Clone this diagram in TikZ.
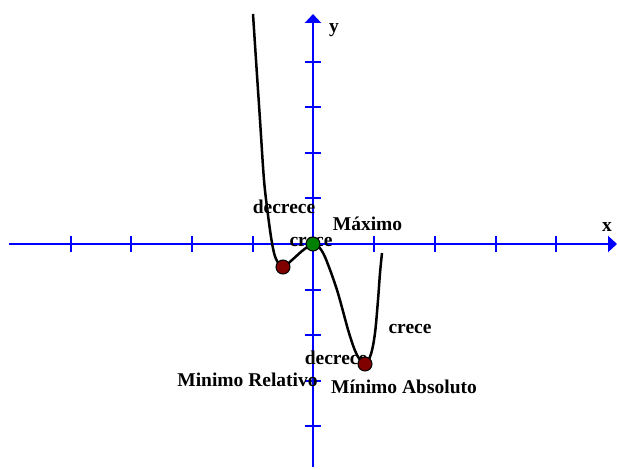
\documentclass[tikz,border=0pt]{standalone}
\usepackage{fontspec}
\setmainfont{Liberation Serif}
\usetikzlibrary{arrows.meta}
\definecolor{axblue}{RGB}{0,0,255}
\definecolor{dotred}{RGB}{128,0,0}
\definecolor{dotgreen}{RGB}{0,128,0}
\tikzset{
  axis/.style={axblue, line width=2.4pt, -{Triangle[length=9pt,width=16pt]}},
  tickmark/.style={axblue, line width=1.4pt},
  curve/.style={black, line width=2.5pt},
  lbl/.style={font=\fontsize{19.5}{22}\selectfont\bfseries, inner sep=0pt, anchor=base},
  critdot/.style={circle, draw=black, line width=1pt, minimum size=14pt, inner sep=0pt},
}
\begin{document}
\begin{tikzpicture}[x=1pt, y=-1pt]
\useasboundingbox (0,0) rectangle (617,470);
% axes
\coordinate (xs) at (9,244);
\coordinate (xe) at (617,244);
\coordinate (ys) at (313,467);
\coordinate (ye) at (313,14);
\draw[axis] (xs) -- (xe);
\draw[axis] (ys) -- (ye);
\foreach \t in {71,131,192,253,374,435,496,556}
  \draw[tickmark] (\t,236) -- (\t,252);
\foreach \t in {62,107,153,198,290,335,381,426}
  \draw[tickmark] (305,\t) -- (321,\t);
% curve
\draw[curve] plot[smooth, tension=0.55] coordinates {
  (253,14) (256,60) (260,120) (264,180) (268,215) (272,243) (276,259) (283,267)
  (292,260) (302,251) (309,246) (313,244) (318,246) (325,257) (337,290)
  (349,333) (357,355) (365,364) (371,354) (375,333) (378,300) (380,273) (382,253)};
% labels
\node[lbl] (ylab) at (334,33) {y};
\node[lbl] (xlab) at (607,231) {x};
\node[lbl] (dec1) at (284,213) {decrece};
\node[lbl] (cre1) at (311,246) {crece};
\node[lbl] (maxl) at (367.5,230) {Máximo};
\node[lbl] (cre2) at (410,333) {crece};
\node[lbl] (dec2) at (336,364) {decrece};
\node[lbl] (minrel) at (247.5,386) {Minimo Relativo};
\node[lbl] (minabs) at (404,393) {Mínimo Absoluto};
% critical points
\node[critdot, fill=dotred] (mr) at (283,267) {};
\node[critdot, fill=dotgreen] (mx) at (313,244) {};
\node[critdot, fill=dotred] (ma) at (365,364) {};
\end{tikzpicture}
\end{document}
